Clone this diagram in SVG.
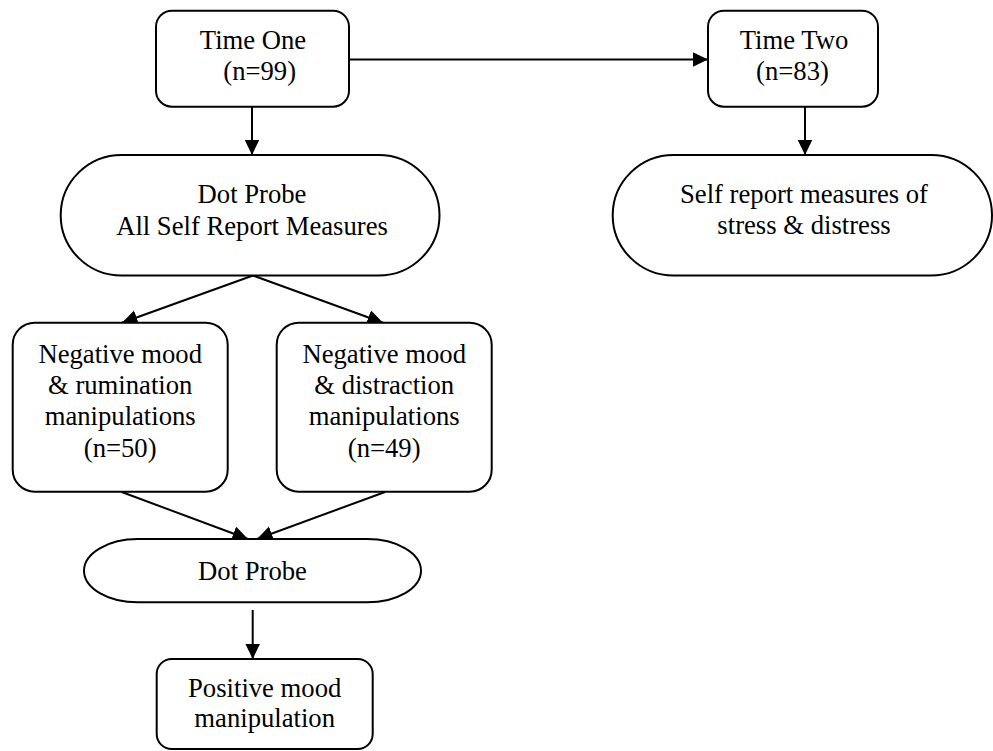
<svg xmlns="http://www.w3.org/2000/svg" width="993" height="751" viewBox="0 0 993 751">
<defs>
<style>
.box{fill:#fff;stroke:#000;stroke-width:2}
.t{font-family:"Liberation Serif","Times New Roman",serif;font-size:26.67px;fill:#000;text-anchor:middle}
.c{stroke:#000;stroke-width:2;fill:none;marker-end:url(#ah)}
</style>
<marker id="ah" markerUnits="userSpaceOnUse" markerWidth="16" markerHeight="16" refX="15.5" refY="7.5" orient="auto">
<path d="M0,0 L15.5,7.5 L0,15 Z" fill="#000"/>
</marker>
</defs>
<rect width="993" height="751" fill="#fff"/>
<g id="connectors">
<line class="c" x1="349" y1="59.5" x2="708" y2="59.5"/>
<line class="c" x1="252" y1="106.7" x2="252" y2="155"/>
<line class="c" x1="805" y1="106.7" x2="805" y2="155"/>
<line class="c" x1="253" y1="275.5" x2="122" y2="322.7"/>
<line class="c" x1="253" y1="275.5" x2="383" y2="322.7"/>
<line class="c" x1="121.7" y1="492" x2="248" y2="539"/>
<line class="c" x1="385" y1="492" x2="257" y2="539"/>
<line class="c" x1="252.7" y1="610" x2="252.7" y2="659"/>
</g>
<g id="time-one">
<rect class="box" x="156" y="10.7" width="193" height="96" rx="16"/>
<text class="t" x="253" y="49">Time One</text>
<text class="t" x="259.7" y="80">(n=99)</text>
</g>
<g id="time-two">
<rect class="box" x="708" y="10.7" width="170" height="96" rx="16"/>
<text class="t" x="794" y="49">Time Two</text>
<text class="t" x="792.5" y="80">(n=83)</text>
</g>
<g id="dot-probe-1">
<path class="box" d="M121.7,155 H378.5 A61,60.25 0 0 1 378.5,275.5 H121.7 A61,60.25 0 0 1 121.7,155 Z"/>
<text class="t" x="252" y="203">Dot Probe</text>
<text class="t" x="252" y="235">All Self Report Measures</text>
</g>
<g id="self-report">
<path class="box" d="M673.7,155 H931 A61,60.25 0 0 1 931,275.5 H673.7 A61,60.25 0 0 1 673.7,155 Z"/>
<text class="t" x="804" y="203">Self report measures of</text>
<text class="t" x="804" y="234">stress &amp; distress</text>
</g>
<g id="rumination">
<rect class="box" x="12.7" y="322.7" width="215" height="169" rx="22"/>
<text class="t" x="120.2" y="363">Negative mood</text>
<text class="t" x="120.2" y="394">&amp; rumination</text>
<text class="t" x="120.2" y="425">manipulations</text>
<text class="t" x="120.2" y="457">(n=50)</text>
</g>
<g id="distraction">
<rect class="box" x="276.7" y="322.7" width="215" height="169" rx="22"/>
<text class="t" x="384.2" y="363">Negative mood</text>
<text class="t" x="384.2" y="394">&amp; distraction</text>
<text class="t" x="384.2" y="425">manipulations</text>
<text class="t" x="384.2" y="457">(n=49)</text>
</g>
<g id="dot-probe-2">
<path class="box" d="M138,539 H367 A54,31.65 0 0 1 367,602.3 H138 A54,31.65 0 0 1 138,539 Z"/>
<text class="t" x="252.5" y="580">Dot Probe</text>
</g>
<g id="positive">
<rect class="box" x="156.7" y="659" width="216" height="90" rx="15"/>
<text class="t" x="264.7" y="697">Positive mood</text>
<text class="t" x="264.7" y="727">manipulation</text>
</g>
</svg>
